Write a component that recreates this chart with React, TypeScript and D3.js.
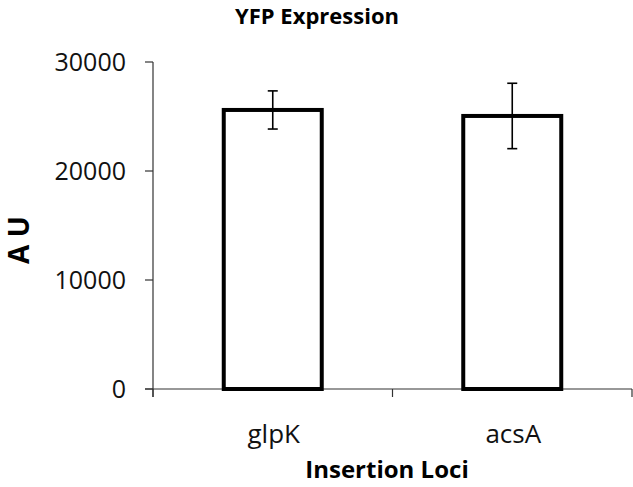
import React, { useEffect, useRef } from "react";
import * as d3 from "d3";

const categories = ["glpK", "acsA"];
const values = [25600, 25050];
const errors = [1750, 3000];
const yTicks = [0, 10000, 20000, 30000];

const W = 633;
const H = 487;

const App = () => {
  const ref = useRef<SVGSVGElement>(null);

  useEffect(() => {
    const svg = d3.select(ref.current);
    svg.selectAll("*").remove();

    const left = 153;
    const right = 632;
    const top = 62;
    const bottom = 389;

    // scales
    const x = d3.scaleBand().domain(categories).range([left, right]).paddingInner(0).paddingOuter(0);
    const y = d3.scaleLinear().domain([0, 30000]).range([bottom, top]);
    const barW = 98;

    const font = "'Open Sans', 'Liberation Sans', sans-serif";

    // title
    svg
      .append("text")
      .attr("x", 317)
      .attr("y", 24)
      .attr("text-anchor", "middle")
      .attr("font-family", font)
      .attr("font-weight", "bold")
      .attr("font-size", 22)
      .text("YFP Expression");

    // y axis
    const ya = svg.append("g");
    ya.append("line")
      .attr("x1", left).attr("x2", left)
      .attr("y1", y(30000)).attr("y2", bottom + 8)
      .attr("stroke", "#333").attr("stroke-width", 1.2);
    yTicks.forEach((t) => {
      ya.append("line")
        .attr("x1", left - 8).attr("x2", left)
        .attr("y1", y(t)).attr("y2", y(t))
        .attr("stroke", "#333").attr("stroke-width", 1.2);
      ya.append("text")
        .attr("x", 126)
        .attr("y", y(t))
        .attr("dy", "0.35em")
        .attr("text-anchor", "end")
        .attr("font-family", font)
        .attr("font-size", 25)
        .attr("fill", "#111")
        .text(String(t));
    });

    // x axis
    const xa = svg.append("g");
    xa.append("line")
      .attr("x1", left - 8).attr("x2", right)
      .attr("y1", bottom).attr("y2", bottom)
      .attr("stroke", "#333").attr("stroke-width", 1.2);
    const edges = [left, ...categories.map((c) => (x(c) as number) + x.bandwidth())];
    edges.forEach((e) => {
      xa.append("line")
        .attr("x1", e).attr("x2", e)
        .attr("y1", bottom).attr("y2", bottom + 8)
        .attr("stroke", "#333").attr("stroke-width", 1.2);
    });
    categories.forEach((c) => {
      xa.append("text")
        .attr("x", (x(c) as number) + x.bandwidth() / 2 + 1)
        .attr("y", 443)
        .attr("text-anchor", "middle")
        .attr("font-family", font)
        .attr("font-size", 26)
        .attr("fill", "#111")
        .text(c);
    });

    // bars
    svg
      .selectAll("rect.bar")
      .data(values)
      .enter()
      .append("rect")
      .attr("class", "bar")
      .attr("x", (d, i) => (x(categories[i]) as number) + x.bandwidth() / 2 - barW / 2)
      .attr("y", (d) => y(d))
      .attr("width", barW)
      .attr("height", (d) => bottom - y(d))
      .attr("fill", "white")
      .attr("stroke", "#000")
      .attr("stroke-width", 4);

    // error bars
    values.forEach((v, i) => {
      const cx = (x(categories[i]) as number) + x.bandwidth() / 2;
      const g = svg.append("g").attr("stroke", "#000").attr("stroke-width", 1.6);
      g.append("line").attr("x1", cx).attr("x2", cx).attr("y1", y(v + errors[i])).attr("y2", y(v - errors[i]));
      [v + errors[i], v - errors[i]].forEach((e) => {
        g.append("line").attr("x1", cx - 5).attr("x2", cx + 5).attr("y1", y(e)).attr("y2", y(e));
      });
    });

    // axis titles
    svg
      .append("text")
      .attr("x", 387)
      .attr("y", 478)
      .attr("text-anchor", "middle")
      .attr("font-family", font)
      .attr("font-weight", "bold")
      .attr("font-size", 24)
      .text("Insertion Loci");

    svg
      .append("text")
      .attr("transform", "translate(29,240) rotate(-90)")
      .attr("text-anchor", "middle")
      .attr("font-family", font)
      .attr("font-weight", "bold")
      .attr("font-size", 28)
      .text("A U");
  }, []);

  return (
    <svg
      ref={ref}
      width={W}
      height={H}
      style={{ position: "absolute", left: 0, top: 0, background: "white" }}
    />
  );
};

export default App;
